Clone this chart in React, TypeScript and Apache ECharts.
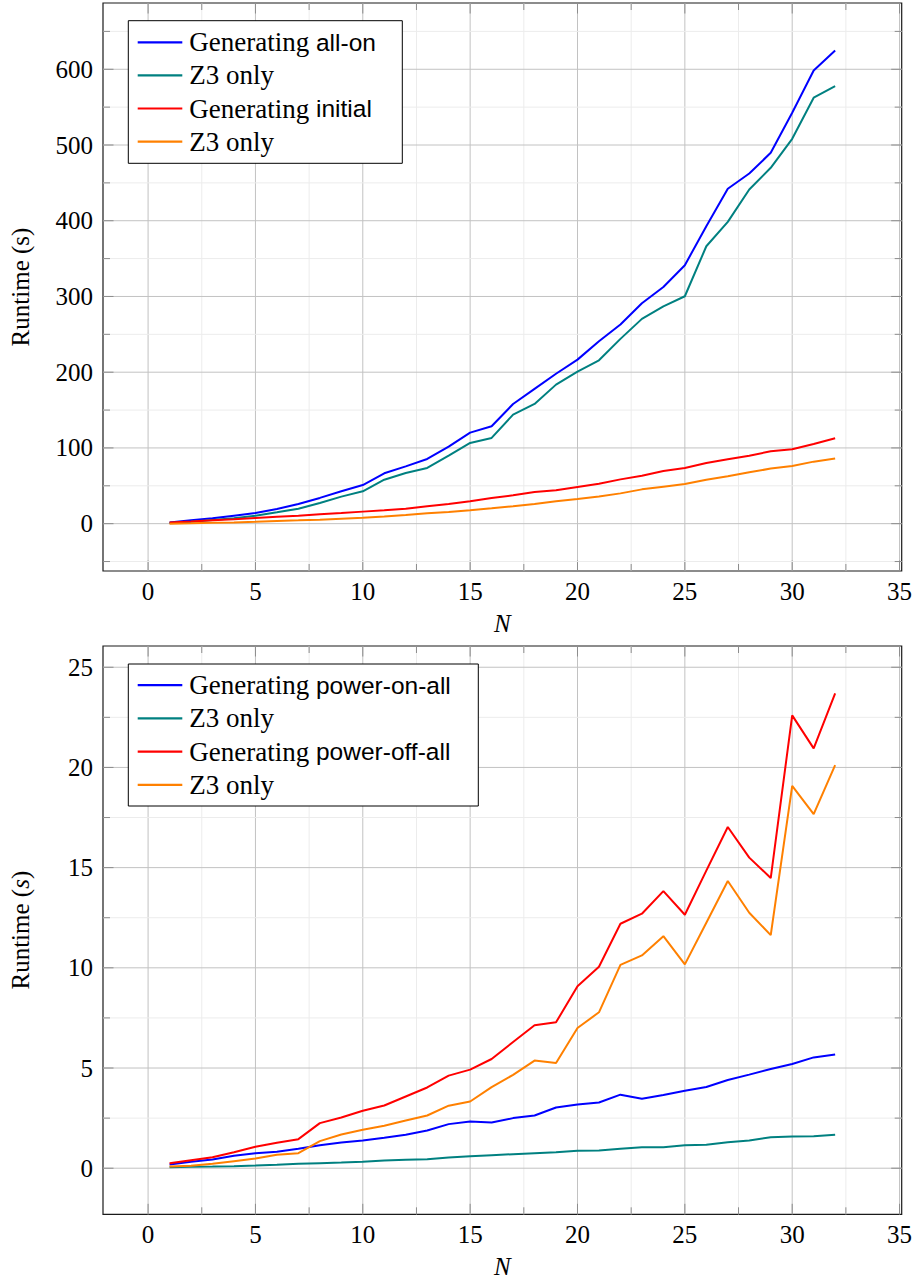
import React, { useEffect, useRef } from 'react';
import * as echarts from 'echarts';

// ---------- data ----------
const N = [1, 2, 3, 4, 5, 6, 7, 8, 9, 10, 11, 12, 13, 14, 15, 16, 17, 18, 19, 20, 21, 22, 23, 24, 25, 26, 27, 28, 29, 30, 31, 32];

// top chart: all-on / initial
const allOnGen = [1.7, 4.4, 7, 10.6, 14, 19.4, 26, 34, 42.7, 51, 66.5, 75.7, 85.4, 101.7, 120.2, 128.6, 158, 178, 198, 216.6, 240.8, 262.9, 291, 312.6, 341.3, 392.8, 442.2, 462.3, 489.7, 542.5, 598.4, 624.8];
const allOnZ3 = [1, 2.6, 4.8, 7, 10.6, 15, 19.8, 27.3, 35.7, 42.7, 58, 67, 73.6, 89.8, 106.6, 113.2, 144, 158.1, 183.6, 200.8, 215.7, 244, 270.4, 287, 300.3, 366.3, 398.5, 441.2, 469.9, 508.2, 562.4, 577.7];
const initialGen = [1.7, 3, 4.4, 5.7, 7.5, 9.2, 10.6, 12.3, 14, 15.9, 17.6, 19.8, 22.9, 26, 29.5, 34, 37.5, 41.9, 44, 48.5, 52.8, 58.5, 63.4, 69.6, 73.6, 80.2, 85, 89.8, 95.5, 98.2, 105.3, 112.7];
const initialZ3 = [0, 0.4, 1.3, 1.7, 2.6, 3.6, 4.4, 5.3, 6.6, 7.9, 9.6, 11.5, 13.6, 15.5, 17.6, 20.2, 23, 26, 29.5, 32.6, 36, 40, 45.3, 48.9, 52.4, 58.1, 62.5, 67.8, 72.7, 76.2, 81.9, 85.9];

// bottom chart: power-on-all / power-off-all
const powerOnGen = [0.18, 0.32, 0.43, 0.62, 0.75, 0.82, 0.97, 1.15, 1.28, 1.38, 1.52, 1.67, 1.88, 2.2, 2.33, 2.28, 2.5, 2.63, 3.03, 3.18, 3.28, 3.67, 3.47, 3.65, 3.87, 4.05, 4.4, 4.67, 4.95, 5.2, 5.53, 5.67];
const powerOnZ3 = [0.05, 0.07, 0.08, 0.1, 0.13, 0.17, 0.22, 0.25, 0.28, 0.32, 0.38, 0.42, 0.45, 0.53, 0.6, 0.65, 0.7, 0.75, 0.8, 0.87, 0.88, 0.97, 1.05, 1.05, 1.15, 1.17, 1.3, 1.38, 1.55, 1.58, 1.6, 1.67];
const powerOffGen = [0.25, 0.4, 0.55, 0.8, 1.07, 1.27, 1.45, 2.25, 2.53, 2.87, 3.13, 3.58, 4.03, 4.62, 4.92, 5.45, 6.3, 7.13, 7.28, 9.08, 10.05, 12.2, 12.7, 13.83, 12.65, 14.85, 17.03, 15.5, 14.48, 22.6, 20.95, 23.7];
const powerOffZ3 = [0.08, 0.12, 0.22, 0.35, 0.48, 0.67, 0.75, 1.35, 1.68, 1.92, 2.12, 2.38, 2.63, 3.12, 3.33, 4.05, 4.66, 5.37, 5.25, 7.0, 7.78, 10.15, 10.62, 11.58, 10.17, 12.25, 14.33, 12.75, 11.63, 19.08, 17.67, 20.12];

// ticks
const xMajor = [0, 5, 10, 15, 20, 25, 30, 35];
const xMinor = [2.5, 7.5, 12.5, 17.5, 22.5, 27.5, 32.5];
const yMajorTop = [0, 100, 200, 300, 400, 500, 600];
const yMinorTop = [-50, 50, 150, 250, 350, 450, 550, 650];
const yMajorBottom = [0, 5, 10, 15, 20, 25];
const yMinorBottom = [2.5, 7.5, 12.5, 17.5, 22.5];

// legend labels (serif part + sans-serif keyword part)
const legendTop = [
  { serif: 'Generating', sans: 'all-on', color: '#0000ff' },
  { serif: 'Z3 only', sans: '', color: '#008080' },
  { serif: 'Generating', sans: 'initial', color: '#ff0000' },
  { serif: 'Z3 only', sans: '', color: '#ff8000' },
];
const legendBottom = [
  { serif: 'Generating', sans: 'power-on-all', color: '#0000ff' },
  { serif: 'Z3 only', sans: '', color: '#008080' },
  { serif: 'Generating', sans: 'power-off-all', color: '#ff0000' },
  { serif: 'Z3 only', sans: '', color: '#ff8000' },
];

const X_RANGE = [-2.1, 35.1];
const Y_RANGE_TOP = [-62.5, 687.5];
const Y_RANGE_BOTTOM = [-2.3, 26.06];

const SERIF = 'Liberation Serif, serif';
const SANS = 'Liberation Sans, sans-serif';

function pairs(ys: number[]) {
  return N.map((n, i) => [n, ys[i]]);
}

function gridSeries(idx: number, yMajor: number[], yMinor: number[], yMin: number) {
  const data: number[][] = [];
  xMajor.forEach((v) => data.push([v, yMin, 0, 1]));
  xMinor.forEach((v) => data.push([v, yMin, 0, 0]));
  yMajor.forEach((v) => data.push([X_RANGE[0], v, 1, 1]));
  yMinor.forEach((v) => data.push([X_RANGE[0], v, 1, 0]));
  return {
    type: 'custom',
    name: 'grid' + idx,
    xAxisIndex: idx,
    yAxisIndex: idx,
    z: 1,
    silent: true,
    clip: false,
    encode: { x: 0, y: 1 },
    data,
    renderItem: (params: any, api: any) => {
      const cs = params.coordSys;
      const p = api.coord([api.value(0), api.value(1)]);
      const horiz = api.value(2) === 1;
      const major = api.value(3) === 1;
      const len = major ? 10.5 : 7;
      const gs = { stroke: major ? '#c2c2c2' : '#ececec', lineWidth: 1 };
      const ts = { stroke: '#8c8c8c', lineWidth: 1 };
      if (!horiz) {
        const x = p[0];
        const top = cs.y;
        const bot = cs.y + cs.height;
        return {
          type: 'group',
          children: [
            { type: 'line', shape: { x1: x, y1: top, x2: x, y2: bot }, style: gs },
            { type: 'line', shape: { x1: x, y1: bot, x2: x, y2: bot - len }, style: ts },
            { type: 'line', shape: { x1: x, y1: top, x2: x, y2: top + len }, style: ts },
          ],
        };
      }
      const y = p[1];
      const l = cs.x;
      const r = cs.x + cs.width;
      return {
        type: 'group',
        children: [
          { type: 'line', shape: { x1: l, y1: y, x2: r, y2: y }, style: gs },
          { type: 'line', shape: { x1: l, y1: y, x2: l + len, y2: y }, style: ts },
          { type: 'line', shape: { x1: r, y1: y, x2: r - len, y2: y }, style: ts },
        ],
      };
    },
  };
}

function lineSeries(idx: number, name: string, ys: number[], color: string) {
  return {
    type: 'line',
    name,
    xAxisIndex: idx,
    yAxisIndex: idx,
    data: pairs(ys),
    showSymbol: false,
    symbol: 'none',
    color,
    lineStyle: { color, width: 2 },
    z: 3,
  };
}

function legendGraphic(items: typeof legendTop, box: { x: number; y: number; w: number; h: number }, rows: number[]) {
  const Z = 100;
  const children: any[] = [
    { type: 'rect', z: Z, shape: { x: box.x, y: box.y, width: box.w, height: box.h }, style: { fill: '#fff', stroke: '#000', lineWidth: 1 } },
  ];
  items.forEach((it, i) => {
    const y = rows[i];
    children.push({ type: 'line', z: Z + 1, shape: { x1: 137.7, y1: y, x2: 182.3, y2: y }, style: { stroke: it.color, lineWidth: 2.2 } });
    children.push({
      type: 'text',
      z: Z + 1,
      x: 189.3,
      y,
      style: {
        text: it.sans ? `{s|${it.serif}} {h|${it.sans}}` : `{s|${it.serif}}`,
        verticalAlign: 'middle',
        align: 'left',
        fontFamily: SERIF,
        fontSize: 27,
        fill: '#000',
        rich: {
          s: { fontFamily: SERIF, fontSize: 27, fill: '#000', color: '#000' },
          h: { fontFamily: SANS, fontSize: 24.5, fill: '#000', color: '#000' },
        },
      },
    });
  });
  return { type: 'group', z: Z, children };
}

function xAxis(idx: number) {
  return {
    type: 'value',
    gridIndex: idx,
    min: X_RANGE[0],
    max: X_RANGE[1],
    splitNumber: 7,
    minInterval: 5,
    maxInterval: 5,
    axisLine: { show: false },
    axisTick: { show: false },
    splitLine: { show: false },
    axisLabel: {
      margin: 8,
      fontFamily: SERIF,
      fontSize: 25,
      color: '#000',
      formatter: (v: number) => (xMajor.includes(v) ? String(v) : ''),
    },
    name: 'N',
    nameLocation: 'middle',
    nameGap: 40,
    nameTextStyle: { fontFamily: SERIF, fontStyle: 'italic', fontSize: 25, color: '#000' },
  };
}

function yAxis(idx: number, range: number[], step: number, major: number[], name: string) {
  return {
    type: 'value',
    gridIndex: idx,
    min: range[0],
    max: range[1],
    splitNumber: 7,
    minInterval: step,
    maxInterval: step,
    axisLine: { show: false },
    axisTick: { show: false },
    splitLine: { show: false },
    axisLabel: {
      margin: 10,
      fontFamily: SERIF,
      fontSize: 25,
      color: '#000',
      formatter: (v: number) => (major.includes(v) ? String(v) : ''),
    },
    name,
    nameLocation: 'middle',
    nameGap: 70,
    nameRotate: 90,
    nameTextStyle: {
      fontFamily: SERIF,
      fontSize: 25,
      color: '#000',
      rich: {
        r: { fontFamily: SERIF, fontSize: 25, color: '#000' },
        i: { fontFamily: SERIF, fontSize: 25, fontStyle: 'italic', color: '#000' },
      },
    },
  };
}

export default function App() {
  const ref = useRef<HTMLDivElement>(null);
  useEffect(() => {
    if (!ref.current) return;
    const chart = echarts.init(ref.current, null, { renderer: 'svg' });
    const gridCommon = { left: 103, width: 798.7, show: true, borderColor: '#1a1a1a', borderWidth: 1.2, backgroundColor: 'transparent' };
    chart.setOption({
      animation: false,
      backgroundColor: '#ffffff',
      grid: [
        { ...gridCommon, top: 3, height: 568 },
        { ...gridCommon, top: 646, height: 568.3 },
      ],
      xAxis: [xAxis(0), xAxis(1)],
      yAxis: [
        yAxis(0, Y_RANGE_TOP, 100, yMajorTop, '{r|Runtime (s)}'),
        yAxis(1, Y_RANGE_BOTTOM, 5, yMajorBottom, '{r|Runtime (}{i|s}{r|)}'),
      ],
      graphic: [
        legendGraphic(legendTop, { x: 128.3, y: 20.7, w: 274, h: 142.6 }, [42.3, 75.4, 108.5, 141.6]),
        legendGraphic(legendBottom, { x: 128.3, y: 664, w: 350, h: 142 }, [685.2, 718.4, 751.6, 784.8]),
      ],
      series: [
        gridSeries(0, yMajorTop, yMinorTop, Y_RANGE_TOP[0]),
        gridSeries(1, yMajorBottom, yMinorBottom, Y_RANGE_BOTTOM[0]),
        lineSeries(0, 'Generating all-on', allOnGen, legendTop[0].color),
        lineSeries(0, 'Z3 only (all-on)', allOnZ3, legendTop[1].color),
        lineSeries(0, 'Generating initial', initialGen, legendTop[2].color),
        lineSeries(0, 'Z3 only (initial)', initialZ3, legendTop[3].color),
        lineSeries(1, 'Generating power-on-all', powerOnGen, legendBottom[0].color),
        lineSeries(1, 'Z3 only (power-on-all)', powerOnZ3, legendBottom[1].color),
        lineSeries(1, 'Generating power-off-all', powerOffGen, legendBottom[2].color),
        lineSeries(1, 'Z3 only (power-off-all)', powerOffZ3, legendBottom[3].color),
      ],
    });
    return () => chart.dispose();
  }, []);
  return <div ref={ref} style={{ position: 'absolute', left: 0, top: 0, width: 916, height: 1285 }} />;
}
